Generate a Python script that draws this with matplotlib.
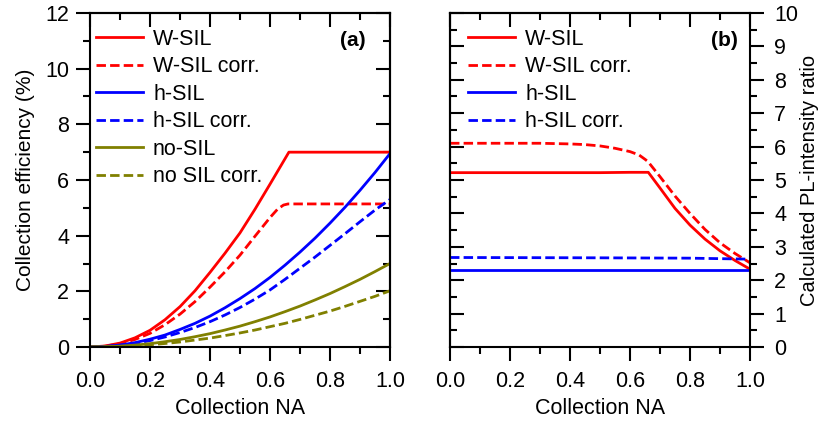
import matplotlib
matplotlib.use("Agg")
import matplotlib.pyplot as plt
from matplotlib.ticker import MultipleLocator, FormatStrFormatter

plt.rcParams['font.family'] = ['Liberation Sans', 'DejaVu Sans']
plt.rcParams['font.size'] = 15

# ---------------- Panel (a) data: collection efficiency (%) ----------------
na_grid = [0.0, 0.05, 0.1, 0.15, 0.2, 0.25, 0.3, 0.35, 0.4, 0.45, 0.5,
           0.55, 0.6, 0.65, 0.7, 0.75, 0.8, 0.85, 0.9, 0.95, 1.0]

na_wsil = [0.0, 0.05, 0.1, 0.15, 0.2, 0.25, 0.3, 0.35, 0.4, 0.45, 0.5,
           0.55, 0.6, 0.663, 1.0]
wsil = [0.0, 0.035, 0.14, 0.33, 0.6, 0.98, 1.45, 2.02, 2.68, 3.37, 4.1,
        4.95, 5.85, 7.0, 7.0]

na_wsil_corr = [0.0, 0.05, 0.1, 0.15, 0.2, 0.25, 0.3, 0.35, 0.4, 0.45, 0.5,
                0.55, 0.6, 0.625, 0.645, 0.66, 1.0]
wsil_corr = [0.0, 0.029, 0.115, 0.27, 0.49, 0.8, 1.18, 1.63, 2.15, 2.7, 3.3,
             3.98, 4.65, 4.95, 5.1, 5.14, 5.14]

hsil = [0.0, 0.017, 0.07, 0.156, 0.28, 0.43, 0.63, 0.85, 1.11, 1.41, 1.74,
        2.1, 2.5, 2.94, 3.41, 3.91, 4.45, 5.02, 5.63, 6.27, 6.95]
hsil_corr = [0.0, 0.015, 0.06, 0.13, 0.23, 0.36, 0.52, 0.7, 0.91, 1.15, 1.42,
             1.72, 2.05, 2.43, 2.83, 3.23, 3.65, 4.07, 4.5, 4.92, 5.3]
nosil = [0.0, 0.0075, 0.03, 0.0675, 0.12, 0.19, 0.27, 0.37, 0.48, 0.61, 0.75,
         0.91, 1.08, 1.27, 1.47, 1.69, 1.92, 2.17, 2.43, 2.71, 3.0]
nosil_corr = [0.0, 0.005, 0.02, 0.045, 0.08, 0.126, 0.18, 0.25, 0.32, 0.41, 0.505,
              0.61, 0.73, 0.85, 0.99, 1.14, 1.29, 1.46, 1.64, 1.82, 2.02]

# ---------------- Panel (b) data: PL-intensity ratio ----------------
na_b_wsil = [0.0, 0.2, 0.4, 0.5, 0.6, 0.661, 0.7, 0.75, 0.8, 0.85, 0.9, 0.95, 1.0]
ratio_wsil = [5.22, 5.22, 5.22, 5.22, 5.23, 5.23, 4.76, 4.15, 3.65, 3.23, 2.88, 2.59, 2.33]

na_b_wsil_corr = [0.0, 0.1, 0.2, 0.3, 0.4, 0.45, 0.5, 0.55, 0.6, 0.63, 0.65, 0.66,
                  0.7, 0.75, 0.8, 0.85, 0.9, 0.95, 1.0]
ratio_wsil_corr = [6.1, 6.1, 6.1, 6.1, 6.08, 6.06, 6.02, 5.95, 5.85, 5.75, 5.62, 5.55,
                   5.1, 4.52, 4.0, 3.52, 3.12, 2.8, 2.52]

na_b_h = [0.0, 0.5, 0.8, 1.0]
ratio_hsil = [2.32, 2.32, 2.32, 2.32]
ratio_hsil_corr = [2.68, 2.67, 2.66, 2.63]

labels_a = ['W-SIL', 'W-SIL corr.', 'h-SIL', 'h-SIL corr.', 'no-SIL', 'no SIL corr.']
labels_b = ['W-SIL', 'W-SIL corr.', 'h-SIL', 'h-SIL corr.']

RED = '#ff0000'
BLUE = '#0000ff'
OLIVE = '#808000'
LW = 2.0
DASH = (0, (3.4, 1.5))

fig = plt.figure(figsize=(8.22, 4.23), dpi=100)
ax_a = fig.add_axes([90 / 822, 76 / 423, 300 / 822, 334 / 423])
ax_b = fig.add_axes([450 / 822, 76 / 423, 300 / 822, 334 / 423])

# Panel (a) curves
ax_a.plot(na_wsil, wsil, color=RED, lw=LW, label=labels_a[0])
ax_a.plot(na_wsil_corr, wsil_corr, color=RED, lw=LW, ls=DASH, label=labels_a[1])
ax_a.plot(na_grid, hsil, color=BLUE, lw=LW, label=labels_a[2])
ax_a.plot(na_grid, hsil_corr, color=BLUE, lw=LW, ls=DASH, label=labels_a[3])
ax_a.plot(na_grid, nosil, color=OLIVE, lw=LW, label=labels_a[4])
ax_a.plot(na_grid, nosil_corr, color=OLIVE, lw=LW, ls=DASH, label=labels_a[5])

# Panel (b) curves
ax_b.plot(na_b_wsil, ratio_wsil, color=RED, lw=LW, label=labels_b[0])
ax_b.plot(na_b_wsil_corr, ratio_wsil_corr, color=RED, lw=LW, ls=DASH, label=labels_b[1])
ax_b.plot(na_b_h, ratio_hsil, color=BLUE, lw=LW, label=labels_b[2])
ax_b.plot(na_b_h, ratio_hsil_corr, color=BLUE, lw=LW, ls=DASH, label=labels_b[3])

ax_a.set_xlim(0, 1)
ax_a.set_ylim(0, 12)
ax_b.set_xlim(0, 1)
ax_b.set_ylim(0, 10)

MAJ = 10
MIN = 5
TW = 1.5
TFS = 15.5

for ax in (ax_a, ax_b):
    for s in ax.spines.values():
        s.set_linewidth(1.5)
    ax.xaxis.set_major_locator(MultipleLocator(0.2))
    ax.xaxis.set_minor_locator(MultipleLocator(0.1))
    ax.xaxis.set_major_formatter(FormatStrFormatter('%.1f'))
    ax.tick_params(axis='x', which='both', direction='out', top=False, bottom=True,
                   width=TW, labelsize=TFS, pad=7.5)
    ax.tick_params(axis='x', which='major', length=MAJ)
    ax.tick_params(axis='x', which='minor', length=MIN)
    ax.set_xlabel('Collection NA', fontsize=15.5, labelpad=4)
    sec = ax.secondary_xaxis('top')
    sec.xaxis.set_major_locator(MultipleLocator(0.2))
    sec.xaxis.set_minor_locator(MultipleLocator(0.1))
    sec.tick_params(axis='x', which='both', direction='in', width=TW, labeltop=False)
    sec.tick_params(axis='x', which='major', length=MAJ)
    sec.tick_params(axis='x', which='minor', length=MIN)
    sec.spines['top'].set_linewidth(1.5)

# Panel (a) y ticks: left out, right in
ax_a.yaxis.set_major_locator(MultipleLocator(2))
ax_a.yaxis.set_minor_locator(MultipleLocator(1))
ax_a.tick_params(axis='y', which='both', direction='out', right=False, left=True,
                 width=TW, labelsize=TFS, pad=5)
ax_a.tick_params(axis='y', which='major', length=MAJ)
ax_a.tick_params(axis='y', which='minor', length=MIN)
ax_a.set_ylabel('Collection efficiency (%)', fontsize=15, labelpad=7)
sec_ay = ax_a.secondary_yaxis('right')
sec_ay.yaxis.set_major_locator(MultipleLocator(2))
sec_ay.yaxis.set_minor_locator(MultipleLocator(1))
sec_ay.tick_params(axis='y', which='both', direction='in', width=TW, labelright=False)
sec_ay.tick_params(axis='y', which='major', length=MAJ)
sec_ay.tick_params(axis='y', which='minor', length=MIN)
sec_ay.spines['right'].set_linewidth(1.5)

# Panel (b) y ticks: right out with labels, left in
ax_b.yaxis.set_major_locator(MultipleLocator(1))
ax_b.yaxis.set_minor_locator(MultipleLocator(0.5))
ax_b.yaxis.tick_right()
ax_b.yaxis.set_label_position('right')
ax_b.tick_params(axis='y', which='both', direction='out', right=True, left=False,
                 labelright=True, labelleft=False, width=TW, labelsize=TFS, pad=7.5)
ax_b.tick_params(axis='y', which='major', length=MAJ)
ax_b.tick_params(axis='y', which='minor', length=MIN)
ax_b.set_ylabel('Calculated PL-intensity ratio', fontsize=14.5, labelpad=1)
sec_by = ax_b.secondary_yaxis('left')
sec_by.yaxis.set_major_locator(MultipleLocator(1))
sec_by.yaxis.set_minor_locator(MultipleLocator(0.5))
sec_by.tick_params(axis='y', which='both', direction='in', width=TW, labelleft=False)
sec_by.tick_params(axis='y', which='major', length=MAJ)
sec_by.tick_params(axis='y', which='minor', length=MIN)
sec_by.spines['left'].set_linewidth(1.5)

leg_kw = dict(frameon=False, fontsize=15.5, handlelength=2.2, handletextpad=0.45,
              labelspacing=0.3, borderaxespad=0.0, borderpad=0.0)
ax_a.legend(loc='upper left', bbox_to_anchor=(0.02, 0.952), **leg_kw)
ax_b.legend(loc='upper left', bbox_to_anchor=(0.06, 0.952), **leg_kw)

ax_a.text(0.875, 0.918, '(a)', transform=ax_a.transAxes, fontsize=15,
          fontweight='bold', ha='center', va='center')
ax_b.text(0.915, 0.918, '(b)', transform=ax_b.transAxes, fontsize=15,
          fontweight='bold', ha='center', va='center')

fig.savefig('out.png', dpi=100)
